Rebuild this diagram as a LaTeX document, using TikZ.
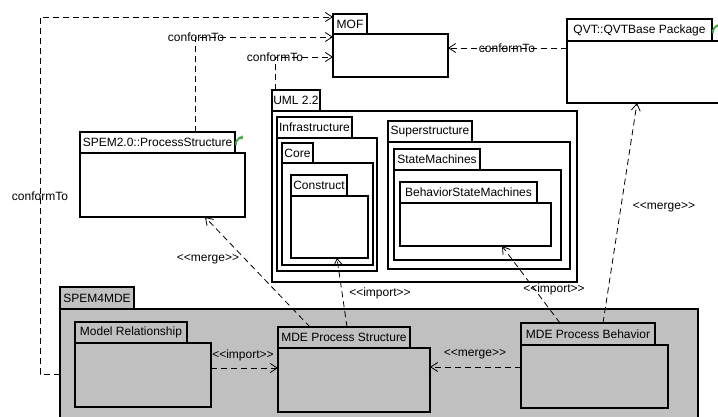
\documentclass[tikz,border=0pt]{standalone}
\usepackage{fontspec}
\setmainfont{Liberation Sans}
\usetikzlibrary{arrows.meta,calc}
\definecolor{pkgray}{RGB}{192,192,192}
\definecolor{icongreen}{RGB}{60,170,60}
\tikzset{
  pkg/.style={draw=black, line width=1.4pt, fill=white, inner sep=0pt, outer sep=0pt,
    anchor=north west, font=\fontsize{12}{14}\selectfont},
  greypkg/.style={fill=pkgray},
  dep/.style={draw=black, line width=0.8pt, dash pattern=on 6pt off 4pt,
    -{Straight Barb[length=7pt,width=9pt,line width=0.8pt]}},
  lbl/.style={font=\fontsize{12}{14}\selectfont, inner sep=0pt},
  greenicon/.style={icongreen, line width=1.8pt, -{Triangle[length=3pt,width=5pt]}},
}
% name, x1, ytabtop, xtabright, ybodytop, x2, y2, text, style
\newcommand\pkgdraw[9]{%
  \node[pkg,#9,minimum width={(#6-#2)*1pt},minimum height={(#7-#5)*1pt}] (#1B) at (#2,#5) {};
  \node[pkg,#9,minimum width={(#4-#2)*1pt},minimum height={(#5-#3)*1pt}] (#1T) at (#2,#3) {#8};
}
\begin{document}
\begin{tikzpicture}[x=1pt,y=-1pt]
\useasboundingbox (0,0) rectangle (718,416);
\fill[white] (0,0) rectangle (718,416);

% top packages
\pkgdraw{mof}{333}{14}{367}{34}{448}{77}{MOF}{}
\pkgdraw{qvt}{567}{19}{712}{41}{730}{103}{QVT::QVTBase Package}{}
\pkgdraw{spem}{80}{132}{235}{153}{245}{217}{SPEM2.0::ProcessStructure}{}

% UML 2.2
\pkgdraw{uml}{272}{90}{320}{111}{577}{282}{UML 2.2}{}
\pkgdraw{infra}{277}{117}{352}{138}{377}{271}{Infrastructure}{}
\pkgdraw{core}{282}{143}{313}{163}{373}{265}{Core}{}
\pkgdraw{construct}{291}{175}{347}{196}{368}{258}{Construct}{}
\pkgdraw{super}{388}{121}{472}{142}{570}{269}{Superstructure}{}
\pkgdraw{sm}{394}{149}{480}{170}{561}{260}{StateMachines}{}
\pkgdraw{bsm}{400}{182}{537}{203}{551}{246}{BehaviorStateMachines}{}

% SPEM4MDE
\pkgdraw{s4m}{60}{287}{134}{309}{698}{430}{SPEM4MDE}{greypkg}
\pkgdraw{mr}{75}{322}{187}{343}{211}{407}{Model Relationship}{greypkg}
\pkgdraw{mps}{278}{327}{410}{348}{430}{412}{MDE Process Structure}{greypkg}
\pkgdraw{mpb}{521}{323}{655}{345}{668}{408}{MDE Process Behavior}{greypkg}

% green icons
\draw[greenicon] (236,145) to[bend left=80] (243,139);
\draw[greenicon] (713,33) to[bend left=80] (720,27);

% helper coordinates
\coordinate (lc1) at (40,374);
\coordinate (lc2) at (40,17);
\coordinate (c2) at (195,37);
\coordinate (c3) at (275,57);
\coordinate (c4) at (0,48);
\coordinate (c5) at (0,368);
\coordinate (c6) at (0,367);
\coordinate (c7a) at (310,0);
\coordinate (c7b) at (205,0);
\coordinate (c8a) at (347,0);
\coordinate (c8b) at (337,0);
\coordinate (c9a) at (560,0);
\coordinate (c9b) at (502,0);
\coordinate (c10a) at (603,0);
\coordinate (c10b) at (637,0);

% conformTo connectors
\draw[dep] (s4mB.west |- lc1) -- (lc1) -- (lc2) -- (mofT.west |- lc2);
\node[lbl] (lblL) at (40,196) {conformTo};
\draw[dep] (c2 |- spemT.north) -- (c2) -- (mofB.west |- c2);
\node[lbl] (lblS) at (196,37) {conformTo};
\draw[dep] (c3 |- umlT.north) -- (c3) -- (mofB.west |- c3);
\node[lbl] (lblU) at (275,57) {conformTo};
\draw[dep] (qvtB.west |- c4) -- (mofB.east |- c4);
\node[lbl] (lblQ) at (507,48) {conformTo};

% import / merge
\draw[dep] (mrB.east |- c5) -- (mpsB.west |- c5);
\node[lbl] (lblI1) at (243,355) {<{}<import>{}>};
\draw[dep] (mpbB.west |- c6) -- (mpsB.east |- c6);
\node[lbl] (lblM1) at (475,354) {<{}<merge>{}>};
\draw[dep] (c7a |- mpsT.north) -- (c7b |- spemB.south);
\node[lbl] (lblM2) at (208,259) {<{}<merge>{}>};
\draw[dep] (c8a |- mpsT.north) -- (c8b |- constructB.south);
\node[lbl] (lblI2) at (380,293) {<{}<import>{}>};
\draw[dep] (c9a |- mpbT.north) -- (c9b |- bsmB.south);
\node[lbl] (lblI3) at (554,289) {<{}<import>{}>};
\draw[dep] (c10a |- mpbT.north) -- (c10b |- qvtB.south);
\node[lbl] (lblM3) at (664,207) {<{}<merge>{}>};
\end{tikzpicture}
\end{document}
